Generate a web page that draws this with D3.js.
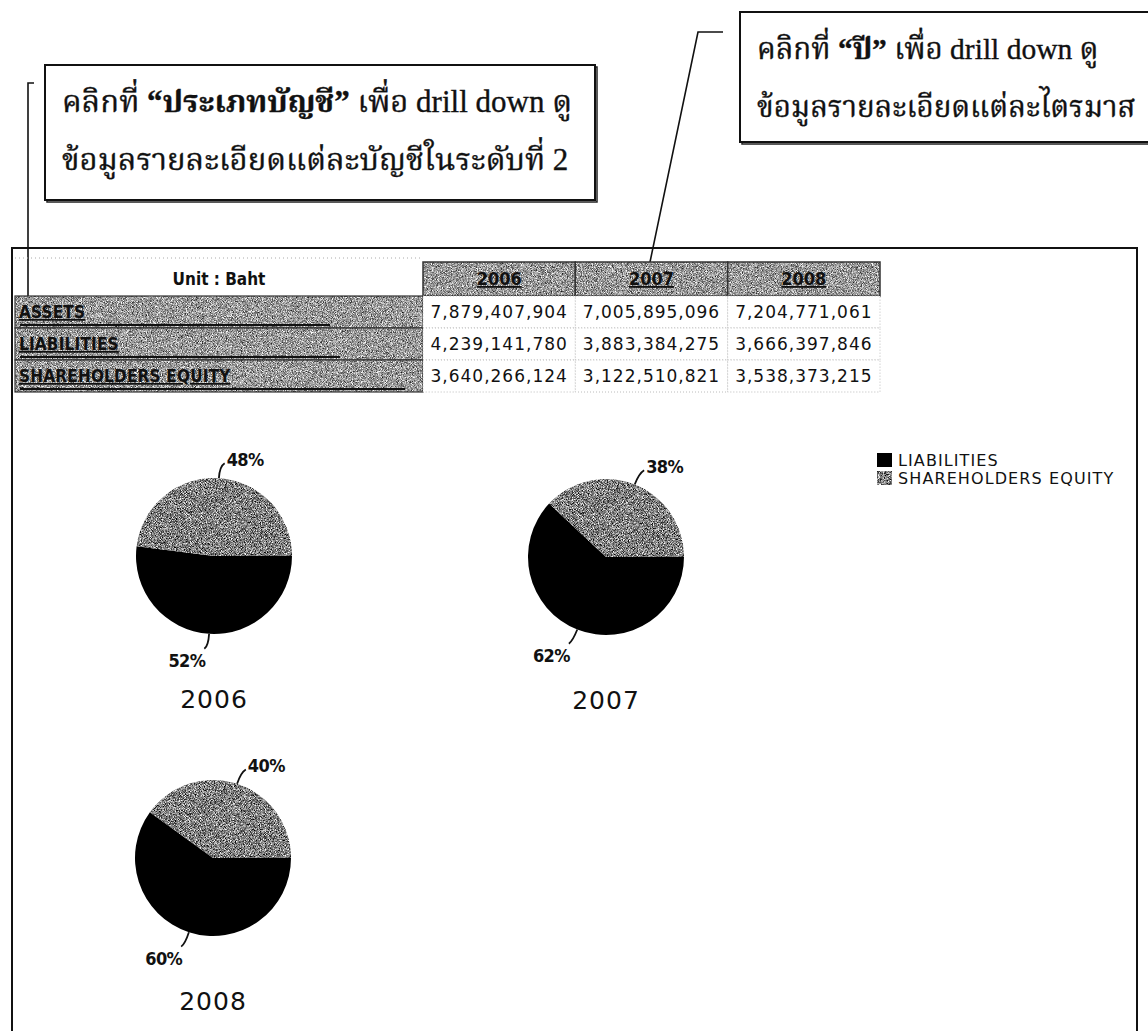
<!DOCTYPE html>
<html>
<head>
<meta charset="utf-8">
<script src="https://cdn.jsdelivr.net/npm/d3@7"></script>
<style>
  html, body { margin: 0; padding: 0; background: #fff; }
  svg { display: block; }
</style>
</head>
<body>
<svg id="chart" width="1148" height="1031"></svg>
<script>
// Balance-sheet summary by year
const years = ["2006", "2007", "2008"];
const accounts = ["ASSETS", "LIABILITIES", "SHAREHOLDERS EQUITY"];
const assets = [7879407904, 7005895096, 7204771061];
const liabilities = [4239141780, 3883384275, 3666397846];
const equity = [3640266124, 3122510821, 3538373215];

// Pie shares (percent) as labelled on each year's pie
const pieSeries = ["LIABILITIES", "SHAREHOLDERS EQUITY"];
const liabShare = [52, 62, 60];
const equityShare = [48, 38, 40];

const unitLabel = "Unit : Baht";

const svg = d3.select("#chart");
const defs = svg.append("defs");

// grainy gray fill used for the shaded cells and the equity slices
function grain(id, base, k, seed, freq) {
  const f = defs.append("filter").attr("id", id)
    .attr("x", 0).attr("y", 0).attr("width", "100%").attr("height", "100%")
    .attr("color-interpolation-filters", "sRGB");
  f.append("feTurbulence").attr("type", "fractalNoise")
    .attr("baseFrequency", freq).attr("numOctaves", 2).attr("seed", seed).attr("result", "n");
  const off = base - k * 0.5;
  f.append("feColorMatrix").attr("in", "n").attr("type", "matrix")
    .attr("values", `${k} 0 0 0 ${off}  ${k} 0 0 0 ${off}  ${k} 0 0 0 ${off}  0 0 0 0 1`)
    .attr("result", "g");
  f.append("feComposite").attr("in", "g").attr("in2", "SourceGraphic").attr("operator", "in");
}
grain("grainCell", 0.6, 1.5, 4, 1.2);
grain("grainPie", 0.5, 1.8, 9, 1.2);

const thaiFont = "'Liberation Serif', 'Noto Serif Thai', 'Noto Sans Thai', 'Loma', 'Garuda', serif";
const uiFont = "'DejaVu Sans Condensed', 'DejaVu Sans', sans-serif";

// ---------- outer frame ----------
svg.append("rect")
  .attr("x", 12).attr("y", 248).attr("width", 1125).attr("height", 820)
  .attr("fill", "none").attr("stroke", "#111").attr("stroke-width", 2);

// ---------- callout boxes ----------
function callout(x, y, w, h, size, lines) {
  const g = svg.append("g");
  g.append("rect").attr("x", x + 2).attr("y", y + 2).attr("width", w).attr("height", h)
    .attr("fill", "none").attr("stroke", "#222").attr("stroke-width", 1.5);
  g.append("rect").attr("x", x).attr("y", y).attr("width", w).attr("height", h)
    .attr("fill", "#fff").attr("stroke", "#111").attr("stroke-width", 2);
  lines.forEach((parts, i) => {
    const t = g.append("text")
      .attr("x", x + 17).attr("y", y + 47 + i * 58)
      .attr("font-family", thaiFont).attr("font-size", size).attr("fill", "#111")
      .attr("stroke", "#111").attr("stroke-width", 0.35);
    parts.forEach(p => {
      t.append("tspan").attr("font-weight", p.b ? "bold" : "normal").text(p.t);
    });
  });
}
callout(45, 65, 550, 135, 31, [
  [{ t: "คลิกที่ " }, { t: "“ประเภทบัญชี”", b: true }, { t: " เพื่อ drill down ดู" }],
  [{ t: "ข้อมูลรายละเอียดแต่ละบัญชีในระดับที่ 2" }]
]);
callout(740, 12, 420, 130, 29.5, [
  [{ t: "คลิกที่ " }, { t: "“ปี”", b: true }, { t: " เพื่อ drill down ดู" }],
  [{ t: "ข้อมูลรายละเอียดแต่ละไตรมาส" }]
]);

// leader lines from the callouts into the table
svg.append("path")
  .attr("d", "M34,83 L28,83 L28,300")
  .attr("fill", "none").attr("stroke", "#111").attr("stroke-width", 1.6);
svg.append("path")
  .attr("d", "M723,32 L698,32 L645,286")
  .attr("fill", "none").attr("stroke", "#111").attr("stroke-width", 1.6);

// ---------- table ----------
const tableTop = 262, headH = 34, rowH = 32;
const labelX0 = 15, labelX1 = 423;
const colX = d3.scaleBand().domain(years).range([423, 880]);
const rowY = d3.scaleBand().domain(accounts).range([tableTop + headH, tableTop + headH + rowH * 3]);
const rows = [assets, liabilities, equity];
const fmt = d3.format(",");

// header: unit cell
svg.append("text")
  .attr("x", (labelX0 + labelX1) / 2).attr("y", tableTop + headH / 2 + 6)
  .attr("text-anchor", "middle").attr("font-family", uiFont).attr("font-weight", "bold")
  .attr("font-size", 17).attr("fill", "#111").text(unitLabel);
svg.append("line").attr("x1", labelX0).attr("x2", labelX1).attr("y1", tableTop - 4).attr("y2", tableTop - 4)
  .attr("stroke", "#aaa").attr("stroke-dasharray", "1,3");

// header: year cells
const yh = svg.append("g").selectAll("g").data(years).join("g");
yh.append("rect")
  .attr("x", d => colX(d)).attr("y", tableTop).attr("width", colX.bandwidth()).attr("height", headH)
  .attr("fill", "#999").attr("filter", "url(#grainCell)");
yh.append("rect")
  .attr("x", d => colX(d)).attr("y", tableTop).attr("width", colX.bandwidth()).attr("height", headH)
  .attr("fill", "none").attr("stroke", "#333").attr("stroke-width", 1.5);
yh.append("text")
  .attr("x", d => colX(d) + colX.bandwidth() / 2).attr("y", tableTop + headH / 2 + 6)
  .attr("text-anchor", "middle").attr("font-family", uiFont).attr("font-weight", "bold")
  .attr("font-size", 18).attr("fill", "#111").attr("text-decoration", "underline")
  .text(d => d);

// row label cells
const rl = svg.append("g").selectAll("g").data(accounts).join("g");
rl.append("rect")
  .attr("x", labelX0).attr("y", d => rowY(d)).attr("width", labelX1 - labelX0).attr("height", rowY.bandwidth())
  .attr("fill", "#999").attr("filter", "url(#grainCell)");
rl.append("rect")
  .attr("x", labelX0).attr("y", d => rowY(d)).attr("width", labelX1 - labelX0).attr("height", rowY.bandwidth())
  .attr("fill", "none").attr("stroke", "#333").attr("stroke-width", 1.2);
const ruleLen = [330, 340, 405];
rl.append("line")
  .attr("x1", 20).attr("x2", (d, i) => ruleLen[i])
  .attr("y1", d => rowY(d) + rowY.bandwidth() - 3).attr("y2", d => rowY(d) + rowY.bandwidth() - 3)
  .attr("stroke", "#111").attr("stroke-width", 2);
rl.append("text")
  .attr("x", 19).attr("y", d => rowY(d) + rowY.bandwidth() / 2 + 6)
  .attr("font-family", uiFont).attr("font-weight", "bold").attr("font-size", 17)
  .attr("fill", "#111").attr("text-decoration", "underline").attr("letter-spacing", 0.2)
  .text(d => d);

// value cells
accounts.forEach((acc, r) => {
  years.forEach((yr, c) => {
    svg.append("rect")
      .attr("x", colX(yr)).attr("y", rowY(acc)).attr("width", colX.bandwidth()).attr("height", rowY.bandwidth())
      .attr("fill", "#fff").attr("stroke", "#bbb").attr("stroke-width", 1).attr("stroke-dasharray", "1,2");
    svg.append("text")
      .attr("x", colX(yr) + colX.bandwidth() / 2).attr("y", rowY(acc) + rowY.bandwidth() / 2 + 6)
      .attr("text-anchor", "middle").attr("font-family", "'DejaVu Sans', sans-serif").attr("font-size", 17)
      .attr("letter-spacing", 1.0).attr("fill", "#111")
      .text(fmt(rows[r][c]));
  });
});

// ---------- pies ----------
const pieCenters = [[214, 556], [606, 557], [213, 858]];
const radius = 78;
const pie = d3.pie().sort(null).value(d => d.v)
  .startAngle(Math.PI / 2).endAngle(Math.PI / 2 + 2 * Math.PI);
const arc = d3.arc().innerRadius(0).outerRadius(radius);
const colors = d3.scaleOrdinal().domain(pieSeries).range(["#000", "#8a8a8a"]);

years.forEach((yr, i) => {
  const data = [
    { k: pieSeries[0], v: liabShare[i] },
    { k: pieSeries[1], v: equityShare[i] }
  ];
  const g = svg.append("g").attr("transform", `translate(${pieCenters[i][0]},${pieCenters[i][1]})`);
  const arcs = pie(data);
  g.selectAll("path.slice").data(arcs).join("path").attr("class", "slice")
    .attr("d", arc)
    .attr("fill", d => colors(d.data.k))
    .attr("filter", d => d.data.k === pieSeries[1] ? "url(#grainPie)" : null);

  arcs.forEach(a => {
    const m = (a.startAngle + a.endAngle) / 2;
    const sx = Math.sin(m), sy = -Math.cos(m);
    const p0 = [sx * radius, sy * radius];
    const p1 = [sx * (radius + 12), sy * (radius + 12)];
    const up = sy < 0;
    const hook = up ? [p1[0] + 5, p1[1] - 3] : [p1[0] - 4, p1[1] + 3];
    g.append("path")
      .attr("d", `M${p0[0]},${p0[1]} Q${p1[0]},${p1[1]} ${hook[0]},${hook[1]}`)
      .attr("fill", "none").attr("stroke", "#111").attr("stroke-width", 1.8);
    g.append("text")
      .attr("x", up ? hook[0] + 2 : hook[0] + 1)
      .attr("y", up ? hook[1] + 3 : hook[1] + 18)
      .attr("text-anchor", up ? "start" : "end")
      .attr("font-family", uiFont).attr("font-weight", "bold").attr("font-size", 18)
      .attr("letter-spacing", -0.6).attr("fill", "#111")
      .text(a.data.v + "%");
  });

  g.append("text")
    .attr("x", 0).attr("y", 152)
    .attr("text-anchor", "middle").attr("font-family", "'DejaVu Sans', sans-serif")
    .attr("font-size", 25).attr("letter-spacing", 1).attr("fill", "#111").text(yr);
});

// ---------- legend ----------
const lg = svg.append("g").attr("transform", "translate(877,453)");
pieSeries.forEach((s, i) => {
  lg.append("rect").attr("x", 0).attr("y", i * 18).attr("width", 15).attr("height", 14)
    .attr("fill", colors(s)).attr("filter", i === 1 ? "url(#grainPie)" : null);
  lg.append("text").attr("x", 21).attr("y", i * 18 + 13)
    .attr("font-family", "'DejaVu Sans', sans-serif").attr("font-size", 16).attr("letter-spacing", 1.1)
    .attr("fill", "#111").text(s);
});
</script>
</body>
</html>
